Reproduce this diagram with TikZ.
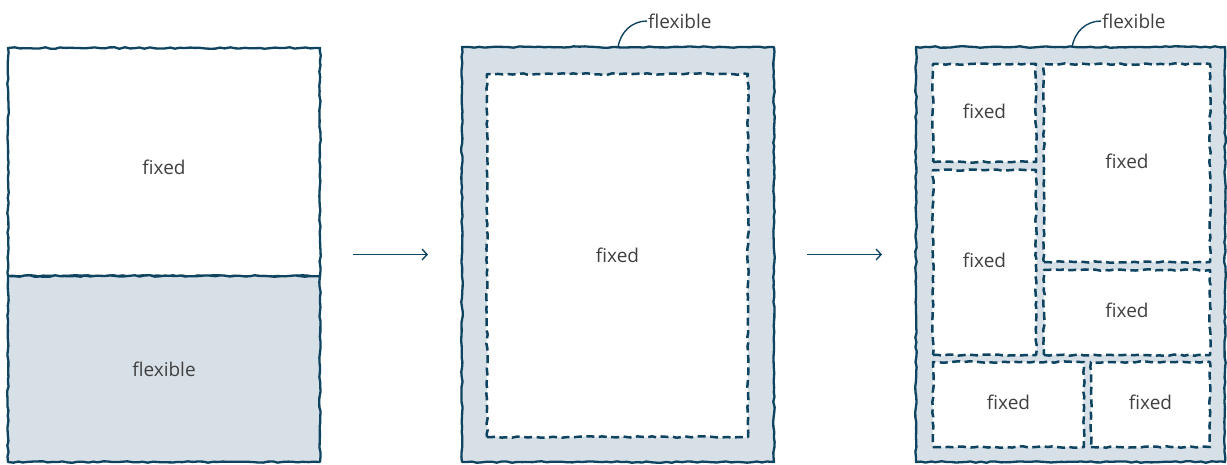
\documentclass[tikz,border=0pt]{standalone}
\usepackage{fontspec}
\setmainfont{Open Sans}
\usetikzlibrary{decorations.pathmorphing,arrows.meta}
\definecolor{ink}{HTML}{0F4461}
\definecolor{flex}{HTML}{D8E0E7}
\definecolor{txt}{HTML}{404040}
\newcommand{\lblfont}{\fontsize{19}{22}\selectfont}
\pgfmathsetseed{7}
\tikzset{
 rough/.style={decorate, decoration={random steps, segment length=5pt, amplitude=0.75pt}},
 panel/.style={rough, draw=ink, line width=2.3pt, line join=round, inner sep=0pt, outer sep=0pt, font=\lblfont, text=txt},
 fixbox/.style={rough, draw=ink, fill=white, line width=2.5pt, line join=round, dash pattern=on 8pt off 4.5pt, inner sep=0pt, outer sep=0pt, font=\lblfont, text=txt},
 cellbox/.style={fixbox, text depth=4pt},
 arr/.style={draw=ink, line width=1.4pt, -{Straight Barb[length=5pt,width=11pt]}},
 leader/.style={draw=ink, line width=1.4pt},
 lbl/.style={font=\lblfont, text=txt, inner sep=1pt}
}
\begin{document}
\begin{tikzpicture}[x=1pt,y=-1pt]
\useasboundingbox (0,0) rectangle (1227,464);
% panel 1
\node[panel, fill=white, minimum width=312pt, minimum height=228pt] (p1top) at (164,162) {};
\node[lbl] (t1) at (164,167) {fixed};
\node[panel, fill=flex, minimum width=312pt, minimum height=186pt] (p1bot) at (164,369) {flexible};
% panel 2
\node[panel, fill=flex, minimum width=312pt, minimum height=415pt] (p2) at (618,254.5) {};
\node[fixbox, minimum width=261pt, minimum height=363pt] (p2in) at (617.5,255.5) {fixed};
\coordinate (c2) at (618,47);
\node[lbl, anchor=west] (l2) at (647,21) {flexible};
\draw[leader] (c2) to[out=80, in=180] (l2.west);
% panel 3
\node[panel, fill=flex, minimum width=309pt, minimum height=415pt] (p3) at (1070.5,254.5) {};
\node[cellbox, minimum width=103pt, minimum height=98pt] (ba) at (984.5,113) {fixed};
\node[cellbox, minimum width=166pt, minimum height=198pt] (bb) at (1127,163) {fixed};
\node[cellbox, minimum width=103pt, minimum height=185pt] (bc) at (984.5,262.5) {fixed};
\node[cellbox, minimum width=166pt, minimum height=85pt] (bd) at (1127,312.5) {fixed};
\node[cellbox, minimum width=151pt, minimum height=85pt] (be) at (1008.5,404.5) {fixed};
\node[cellbox, minimum width=119pt, minimum height=85pt] (bf) at (1150.5,404.5) {fixed};
\coordinate (c3) at (1072,47);
\node[lbl, anchor=west] (l3) at (1101,21) {flexible};
\draw[leader] (c3) to[out=80, in=180] (l3.west);
% arrows
\draw[arr, shorten <=33pt, shorten >=34pt] (p1top.east |- p2.west) -- (p2.west);
\draw[arr, shorten <=33pt, shorten >=34pt] (p2.east) -- (p3.west);
\end{tikzpicture}
\end{document}
